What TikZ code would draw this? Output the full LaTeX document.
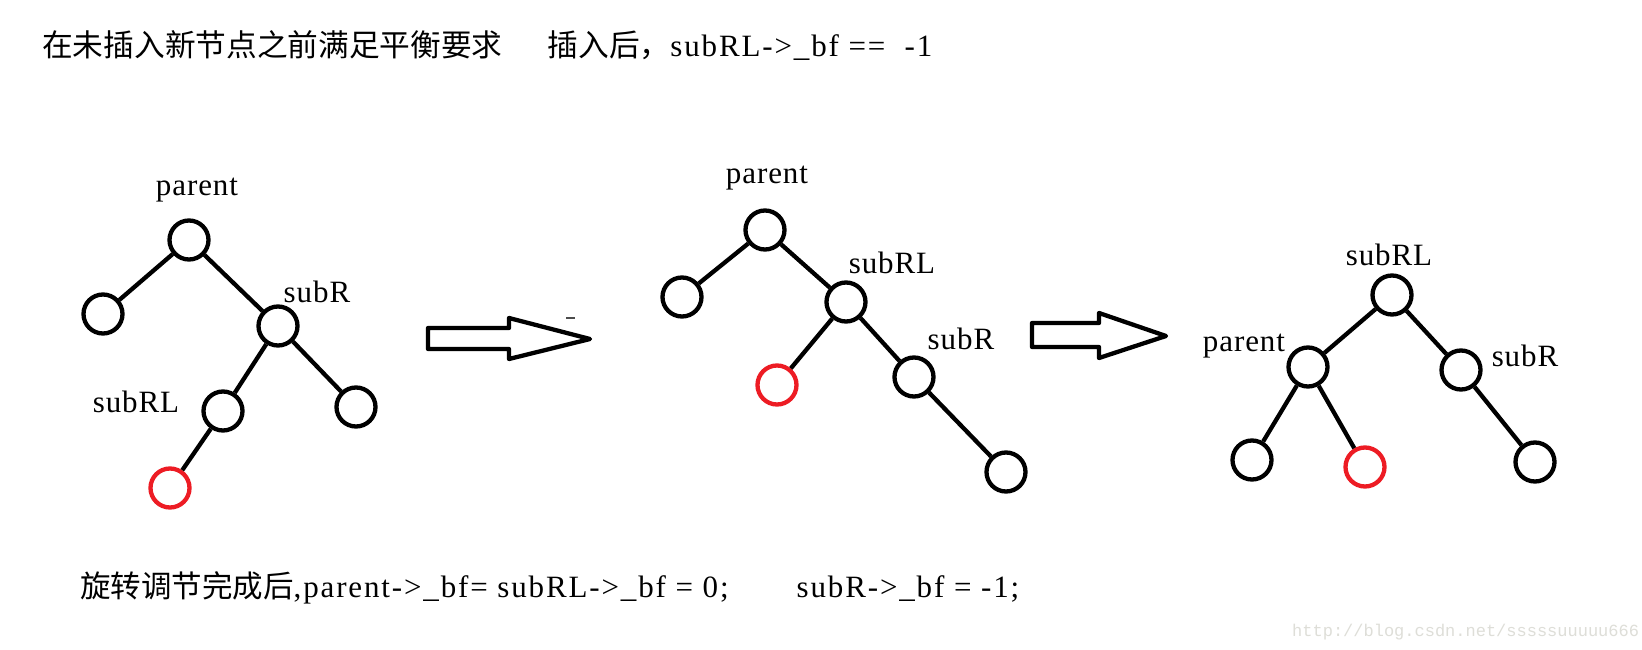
\documentclass[tikz,border=0pt]{standalone}
\usepackage{fontspec}
\setmainfont{Liberation Serif}
\newfontfamily\cjk{Noto Sans CJK SC}
\newfontfamily\lat[LetterSpace=3]{Liberation Serif}
\newfontfamily\latw[LetterSpace=6]{Liberation Serif}
\newfontfamily\wm{Liberation Mono}
\definecolor{paintred}{RGB}{237,28,36}
\definecolor{wmgray}{RGB}{222,222,216}
\begin{document}
\begin{tikzpicture}[x=1pt,y=-1pt,
  tn/.style={circle,draw=black,line width=4.3pt,minimum size=39pt,inner sep=0pt},
  newn/.style={tn,draw=paintred},
  edge/.style={line width=4.3pt},
  lbl/.style={font=\fontsize{31}{36}\selectfont\lat,anchor=base,inner sep=0pt},
  txt/.style={anchor=base west,inner sep=0pt},
  bigarrow/.style={line width=4.3pt,line join=round},
  ]
\useasboundingbox (0,0) rectangle (1642,650);
\fill[white] (0,0) rectangle (1642,650);

% top text
\node[txt] (t1) at (42,57) {{\fontsize{30.7}{36}\selectfont\cjk 在未插入新节点之前满足平衡要求}\hspace{45pt}{\fontsize{30.7}{36}\selectfont\cjk 插入后，}{\fontsize{31}{36}\selectfont\latw subRL->\_bf == \ -1}};

% tree 1
\node[tn] (p1) at (189,240) {};
\node[tn] (l1) at (103,314) {};
\node[tn] (r1) at (278,326) {};
\node[tn] (rl1) at (223,411) {};
\node[tn] (rr1) at (356,407) {};
\node[newn] (x1) at (170,488) {};
\draw[edge] (p1)--(l1) (p1)--(r1) (r1)--(rl1) (r1)--(rr1) (rl1)--(x1);
\node[lbl] (lp1) at (197,196) {parent};
\node[lbl] (lr1) at (317,302) {subR};
\node[lbl] (lrl1) at (136,412) {subRL};

% arrow 1
\draw[bigarrow] (428,328)--(509,328)--(509,318)--(590,339)--(509,359)--(509,349)--(428,349)--cycle;
\draw[line width=1.2pt,black!70] (566,318)--(575,318);

% tree 2
\node[tn] (p2) at (765,230) {};
\node[tn] (l2) at (682,297) {};
\node[tn] (rl2) at (846,302) {};
\node[newn] (x2) at (777,385) {};
\node[tn] (r2) at (914,377) {};
\node[tn] (rr2) at (1006,472) {};
\draw[edge] (p2)--(l2) (p2)--(rl2) (rl2)--(x2) (rl2)--(r2) (r2)--(rr2);
\node[lbl] (lp2) at (767,184) {parent};
\node[lbl] (lrl2) at (892,273) {subRL};
\node[lbl] (lr2) at (961,349) {subR};

% arrow 2
\draw[bigarrow] (1032,323)--(1099,323)--(1099,313)--(1166,336)--(1099,358)--(1099,347)--(1032,347)--cycle;

% tree 3
\node[tn] (rl3) at (1392,295) {};
\node[tn] (p3) at (1308,367) {};
\node[tn] (r3) at (1461,370) {};
\node[tn] (ll3) at (1252,460) {};
\node[newn] (x3) at (1365,467) {};
\node[tn] (rr3) at (1535,462) {};
\draw[edge] (rl3)--(p3) (rl3)--(r3) (p3)--(ll3) (p3)--(x3) (r3)--(rr3);
\node[lbl] (lrl3) at (1389,265) {subRL};
\node[lbl] (lp3) at (1244,351) {parent};
\node[lbl] (lr3) at (1525,366) {subR};

% bottom text
\node[txt] (b1) at (80,597) {{\fontsize{30.5}{36}\selectfont\cjk 旋转调节完成后}{\fontsize{31}{36}\selectfont\latw ,parent->\_bf= subRL->\_bf = 0;\hspace{68pt}subR->\_bf = -1;}};

% watermark
\node[txt,font=\fontsize{17}{20}\selectfont\wm,text=wmgray] (wm) at (1292,636) {http://blog.csdn.net/sssssuuuuu666};
\end{tikzpicture}
\end{document}
